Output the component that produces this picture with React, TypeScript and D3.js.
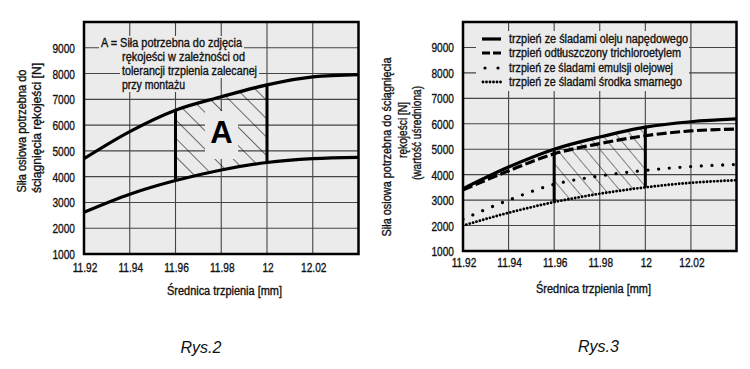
import React from 'react';
import * as d3 from 'd3';

// diameters (x) shared by every curve
const diam = [11.92, 11.94, 11.96, 11.98, 12.0, 12.02, 12.04];

// Rys.2 - force band
const leftUpper = [4700, 5750, 6580, 7100, 7560, 7870, 7960];
const leftLower = [2620, 3320, 3850, 4260, 4550, 4700, 4750];

// Rys.3 - four surface conditions
const dieselOil = [3450, 4300, 5000, 5480, 5870, 6080, 6190];
const trichloro = [3400, 4150, 4820, 5220, 5530, 5720, 5790];
const emulsion = [2250, 3000, 3620, 3950, 4170, 4320, 4400];
const lubricant = [2000, 2500, 2920, 3250, 3500, 3680, 3780];

const xTicks = [11.92, 11.94, 11.96, 11.98, 12, 12.02];
const yTicks = [1000, 2000, 3000, 4000, 5000, 6000, 7000, 8000, 9000];

const legendLabels = [
  'trzpień ze śladami oleju napędowego',
  'trzpień odtłuszczony trichloroetylem',
  'trzpień ze śladami emulsji olejowej',
  'trzpień ze śladami środka smarnego',
];
const legendWidths = [179, 172, 164, 173];

const noteLines = [
  'A = Siła potrzebna do zdjęcia',
  'rękojeści w zależności od',
  'tolerancji trzpienia zalecanej',
  'przy montażu',
];
const noteX = [101, 122, 122, 122];
const noteW = [141, 123, 135, 63];

const FONT = 'Liberation Sans, Arial, sans-serif';
const BG = '#ebebeb';
const GRID = '#454545';

// narrow text: scaled horizontally like the condensed font in the picture
const NText = ({ x, y, text, size = 13, sx = 0.77, anchor = 'start', rot = 0, width }: any) => (
  <text
    transform={`translate(${x},${y}) rotate(${rot})${width ? '' : ` scale(${sx},1)`}`}
    textAnchor={anchor}
    fontSize={size}
    fontFamily={FONT}
    textLength={width}
    lengthAdjust={width ? 'spacingAndGlyphs' : undefined}
    fill="#111"
    stroke="#111"
    strokeWidth={0.35}
  >
    {text}
  </text>
);

const Frame = ({ x, y, tickEndX, xLabelY, id }: any) => {
  const [x0, x1] = x.range();
  const yb = y(1000);
  const yt = y(10000);
  return (
    <g>
      <rect x={x0} y={yt} width={x1 - x0} height={yb - yt} fill={BG} />
      {xTicks.slice(1).map((t) => (
        <line key={'v' + t} x1={x(t)} x2={x(t)} y1={yt} y2={yb} stroke={GRID} strokeWidth={1.1} />
      ))}
      {yTicks.slice(1).map((t) => (
        <line key={'h' + t} x1={x0} x2={x1} y1={y(t)} y2={y(t)} stroke={GRID} strokeWidth={1.1} />
      ))}
      {yTicks.map((t) => (
        <NText key={'yl' + t} x={tickEndX} y={y(t) + 5} text={String(t)} anchor="end" size={13.5} sx={0.75} />
      ))}
      {xTicks.map((t) => (
        <NText key={'xl' + t} x={x(t) + 1} y={xLabelY} text={String(t)} anchor="middle" size={13.5} sx={0.75} />
      ))}
      <clipPath id={id}>
        <rect x={x0} y={yt} width={x1 - x0} height={yb - yt} />
      </clipPath>
    </g>
  );
};

const Border = ({ x, y }: any) => {
  const [x0, x1] = x.range();
  return (
    <rect x={x0} y={y(10000)} width={x1 - x0} height={y(1000) - y(10000)} fill="none" stroke="#000" strokeWidth={2.5} />
  );
};

const App = () => {
  // ---------- left chart ----------
  const xL = d3.scaleLinear().domain([11.92, 12.04]).range([84, 358.5]);
  const yL = d3.scaleLinear().domain([1000, 10000]).range([254, 22]);
  const lineL = (vals: number[]) =>
    d3.line<number>().x((_, i) => xL(diam[i])).y((v) => yL(v)).curve(d3.curveMonotoneX)(vals) as string;
  const bandL = d3
    .area<number>()
    .x((_, i) => xL(diam[i]))
    .y0((_, i) => yL(leftLower[i]))
    .y1((v) => yL(v))
    .curve(d3.curveMonotoneX)(leftUpper) as string;

  // ---------- right chart ----------
  const xR = d3.scaleLinear().domain([11.92, 12.04]).range([463, 736.5]);
  const yR = d3.scaleLinear().domain([1000, 10000]).range([251, 22]);
  const lineR = (vals: number[]) =>
    d3.line<number>().x((_, i) => xR(diam[i])).y((v) => yR(v)).curve(d3.curveMonotoneX)(vals) as string;
  const bandR = d3
    .area<number>()
    .x((_, i) => xR(diam[i]))
    .y0((_, i) => yR(lubricant[i]))
    .y1((v) => yR(v))
    .curve(d3.curveMonotoneX)(dieselOil) as string;

  const styles = [
    { w: 3.2, dash: undefined, cap: 'butt' },
    { w: 3.2, dash: '10 3.5', cap: 'butt' },
    { w: 3.3, dash: '0 10.7', cap: 'round' },
    { w: 2.9, dash: '0 3.5', cap: 'round' },
  ];
  const seriesR = [dieselOil, trichloro, emulsion, lubricant];
  const legendY = [39, 53, 68, 82];

  return (
    <svg width={750} height={369} style={{ display: 'block', position: 'absolute', left: 0, top: 0 }}>
      <rect width={750} height={369} fill="#fff" />
      <defs>
        <pattern id="hatchL" width={13} height={13} patternUnits="userSpaceOnUse" patternTransform="rotate(-45)">
          <line x1={0} y1={0} x2={0} y2={13} stroke="#000" strokeWidth={1.1} />
        </pattern>
        <pattern id="hatchR" width={11} height={11} patternUnits="userSpaceOnUse" patternTransform="rotate(-40)">
          <line x1={0} y1={0} x2={0} y2={11} stroke="#000" strokeWidth={0.9} />
        </pattern>
        <clipPath id="bandL">
          <path d={bandL} />
        </clipPath>
        <clipPath id="bandR">
          <path d={bandR} />
        </clipPath>
      </defs>

      {/* ===== Rys.2 ===== */}
      <Frame x={xL} y={yL} tickEndX={75} xLabelY={272} id="clipL" />
      {noteLines.map((t, i) => (
        <rect key={'nm' + i} x={noteX[i] - 2} y={47 + i * 14 - 11} width={noteW[i] + 4} height={14} fill={BG} />
      ))}
      <rect
        x={xL(11.96)}
        y={0}
        width={xL(12) - xL(11.96)}
        height={369}
        fill="url(#hatchL)"
        clipPath="url(#bandL)"
      />
      <rect x={205} y={111} width={33} height={48} fill={BG} />
      <text x={221.5} y={143} textAnchor="middle" fontFamily={FONT} fontWeight="bold" fontSize={31} fill="#000">
        A
      </text>
      <g clipPath="url(#clipL)">
        <path d={lineL(leftUpper)} fill="none" stroke="#000" strokeWidth={3.2} />
        <path d={lineL(leftLower)} fill="none" stroke="#000" strokeWidth={3.2} />
      </g>
      {[11.96, 12].map((d) => {
        const i = diam.indexOf(d);
        return (
          <line key={'bl' + d} x1={xL(d)} x2={xL(d)} y1={yL(leftLower[i])} y2={yL(leftUpper[i])} stroke="#000" strokeWidth={3} />
        );
      })}
      <Border x={xL} y={yL} />
      {noteLines.map((t, i) => (
        <NText key={'nt' + i} x={noteX[i]} y={47 + i * 14} text={t} size={12} width={noteW[i]} />
      ))}
      <NText x={26} y={131} text="Siła osiowa potrzebna do" size={12} rot={-90} anchor="middle" width={123} />
      <NText x={41} y={128} text="ściągnięcia rękojeści [N]" size={12} rot={-90} anchor="middle" width={130} />
      <NText x={224.5} y={295} text="Średnica trzpienia [mm]" size={12} anchor="middle" width={115} />
      <text x={201} y={353} textAnchor="middle" fontFamily={FONT} fontStyle="italic" fontSize={16} fill="#111">
        Rys.2
      </text>

      {/* ===== Rys.3 ===== */}
      <Frame x={xR} y={yR} tickEndX={454} xLabelY={267} id="clipR" />
      <rect x={476} y={31} width={213} height={60} fill={BG} />
      <rect
        x={xR(11.96)}
        y={0}
        width={xR(12) - xR(11.96)}
        height={369}
        fill="url(#hatchR)"
        clipPath="url(#bandR)"
      />
      <g clipPath="url(#clipR)">
        {seriesR.map((s, k) => (
          <path
            key={'s' + k}
            d={lineR(s)}
            fill="none"
            stroke="#000"
            strokeWidth={styles[k].w}
            strokeDasharray={styles[k].dash}
            strokeLinecap={styles[k].cap as any}
          />
        ))}
      </g>
      {[11.96, 12].map((d) => {
        const i = diam.indexOf(d);
        return (
          <line key={'br' + d} x1={xR(d)} x2={xR(d)} y1={yR(lubricant[i])} y2={yR(dieselOil[i])} stroke="#000" strokeWidth={3} />
        );
      })}
      <Border x={xR} y={yR} />
      {legendLabels.map((t, k) => (
        <g key={'lg' + k}>
          {k === 2 ? (
            <g>
              <circle cx={485} cy={legendY[k]} r={1.6} fill="#000" />
              <circle cx={498} cy={legendY[k]} r={1.6} fill="#000" />
            </g>
          ) : (
            <line
              x1={k === 3 ? 483 : 482}
              x2={501}
              y1={legendY[k]}
              y2={legendY[k]}
              stroke="#000"
              strokeWidth={styles[k].w}
              strokeDasharray={k === 1 ? '8 3' : styles[k].dash}
              strokeLinecap={styles[k].cap as any}
            />
          )}
          <NText x={509} y={legendY[k] + 4} text={t} size={12} width={legendWidths[k]} />
        </g>
      ))}
      <NText x={391} y={147} text="Siła osiowa potrzebna do ściągnięcia" size={12} rot={-90} anchor="middle" width={179} />
      <NText x={407} y={130} text="rękojeści [N]" size={12} rot={-90} anchor="middle" width={56} />
      <NText x={421} y={133} text="(wartość uśredniona)" size={12} rot={-90} anchor="middle" width={94} />
      <NText x={593.5} y={293} text="Średnica trzpienia [mm]" size={12} anchor="middle" width={115} />
      <text x={598.5} y={352} textAnchor="middle" fontFamily={FONT} fontStyle="italic" fontSize={16} fill="#111">
        Rys.3
      </text>
    </svg>
  );
};

export default App;
